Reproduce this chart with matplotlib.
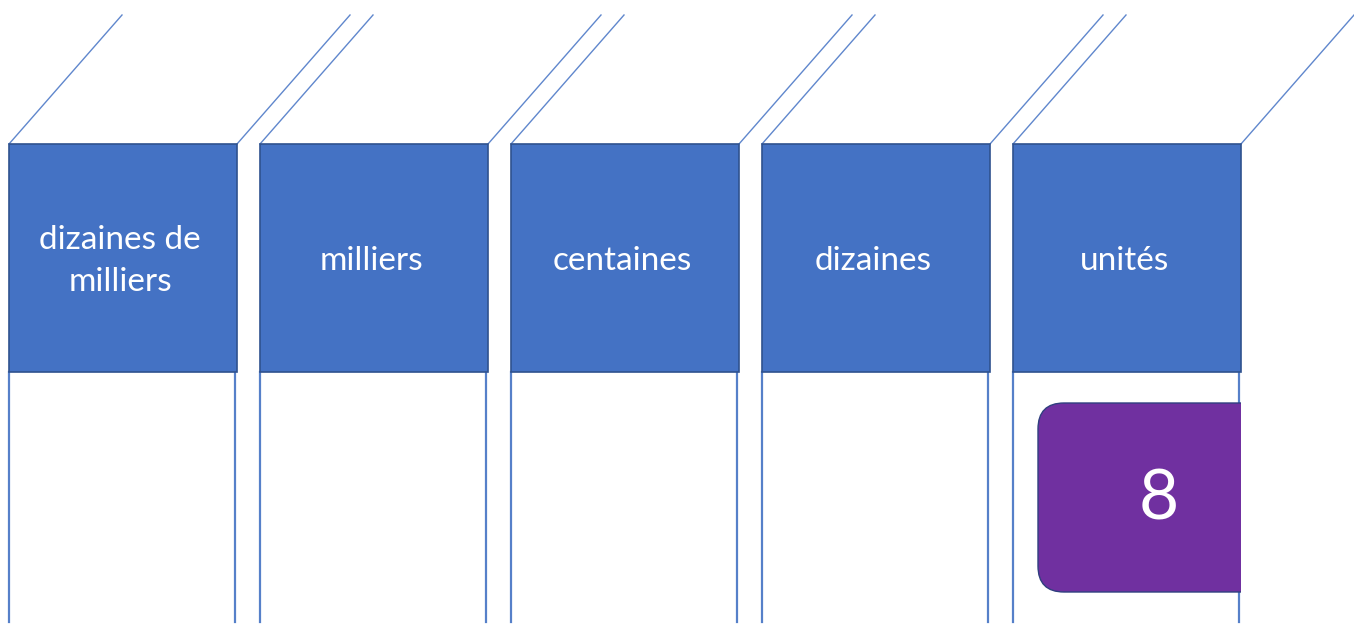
import matplotlib.pyplot as plt
from matplotlib.patches import Rectangle, FancyBboxPatch

plt.rcParams['font.family'] = ['Lato', 'DejaVu Sans']

# colonnes du tableau de numération
labels = ['dizaines de\nmilliers', 'milliers', 'centaines', 'dizaines', 'unités']
# chiffres placés dans les colonnes (None = vide)
digits = [None, None, None, None, '8']

blue = '#4472C4'
edge = '#2F528F'
purple = '#7030A0'

W, H = 1354, 627
fig = plt.figure(figsize=(W / 100, H / 100), dpi=100)
ax = fig.add_axes([0, 0, 1, 1])
ax.set_xlim(0, W)
ax.set_ylim(H, 0)
ax.axis('off')

x0, step, bw = 9, 251, 228
top, mid, bottom = 144, 372, 622
dx, dy = 113, 129

for i, lab in enumerate(labels):
    left = x0 + i * step
    right = left + bw
    # en-tête bleu
    ax.add_patch(Rectangle((left, top), bw, mid - top, facecolor=blue,
                           edgecolor=edge, lw=1.2, zorder=3))
    ax.text(left + bw / 2 - 3, (top + mid) / 2 + 3, lab, color='white',
            fontsize=24, ha='center', va='center', linespacing=1.5, zorder=4)
    # lignes obliques (perspective)
    for xc in (left, right):
        ax.plot([xc, xc + dx], [top, top - dy], color=blue, lw=1.0,
                alpha=0.85, zorder=2)
    # bords verticaux de la colonne
    for xc in (left, right - 2):
        ax.plot([xc, xc], [mid, bottom], color=blue, lw=1.6, alpha=0.9, zorder=2)

    d = digits[i]
    if d is not None:
        px, py = left + 25, 403
        box = FancyBboxPatch((px, py), 260, 189,
                             boxstyle='round,pad=0,rounding_size=26',
                             facecolor=purple, edgecolor='#2F3F7F', lw=1.0,
                             zorder=3)
        ax.add_patch(box)
        clip = Rectangle((left, mid), right - left, bottom - mid,
                         transform=ax.transData)
        box.set_clip_path(clip)
        ax.text(px + 121, py + 97, d, color='white', fontsize=50,
                ha='center', va='center', zorder=4)

fig.savefig('out.png', dpi=100)
